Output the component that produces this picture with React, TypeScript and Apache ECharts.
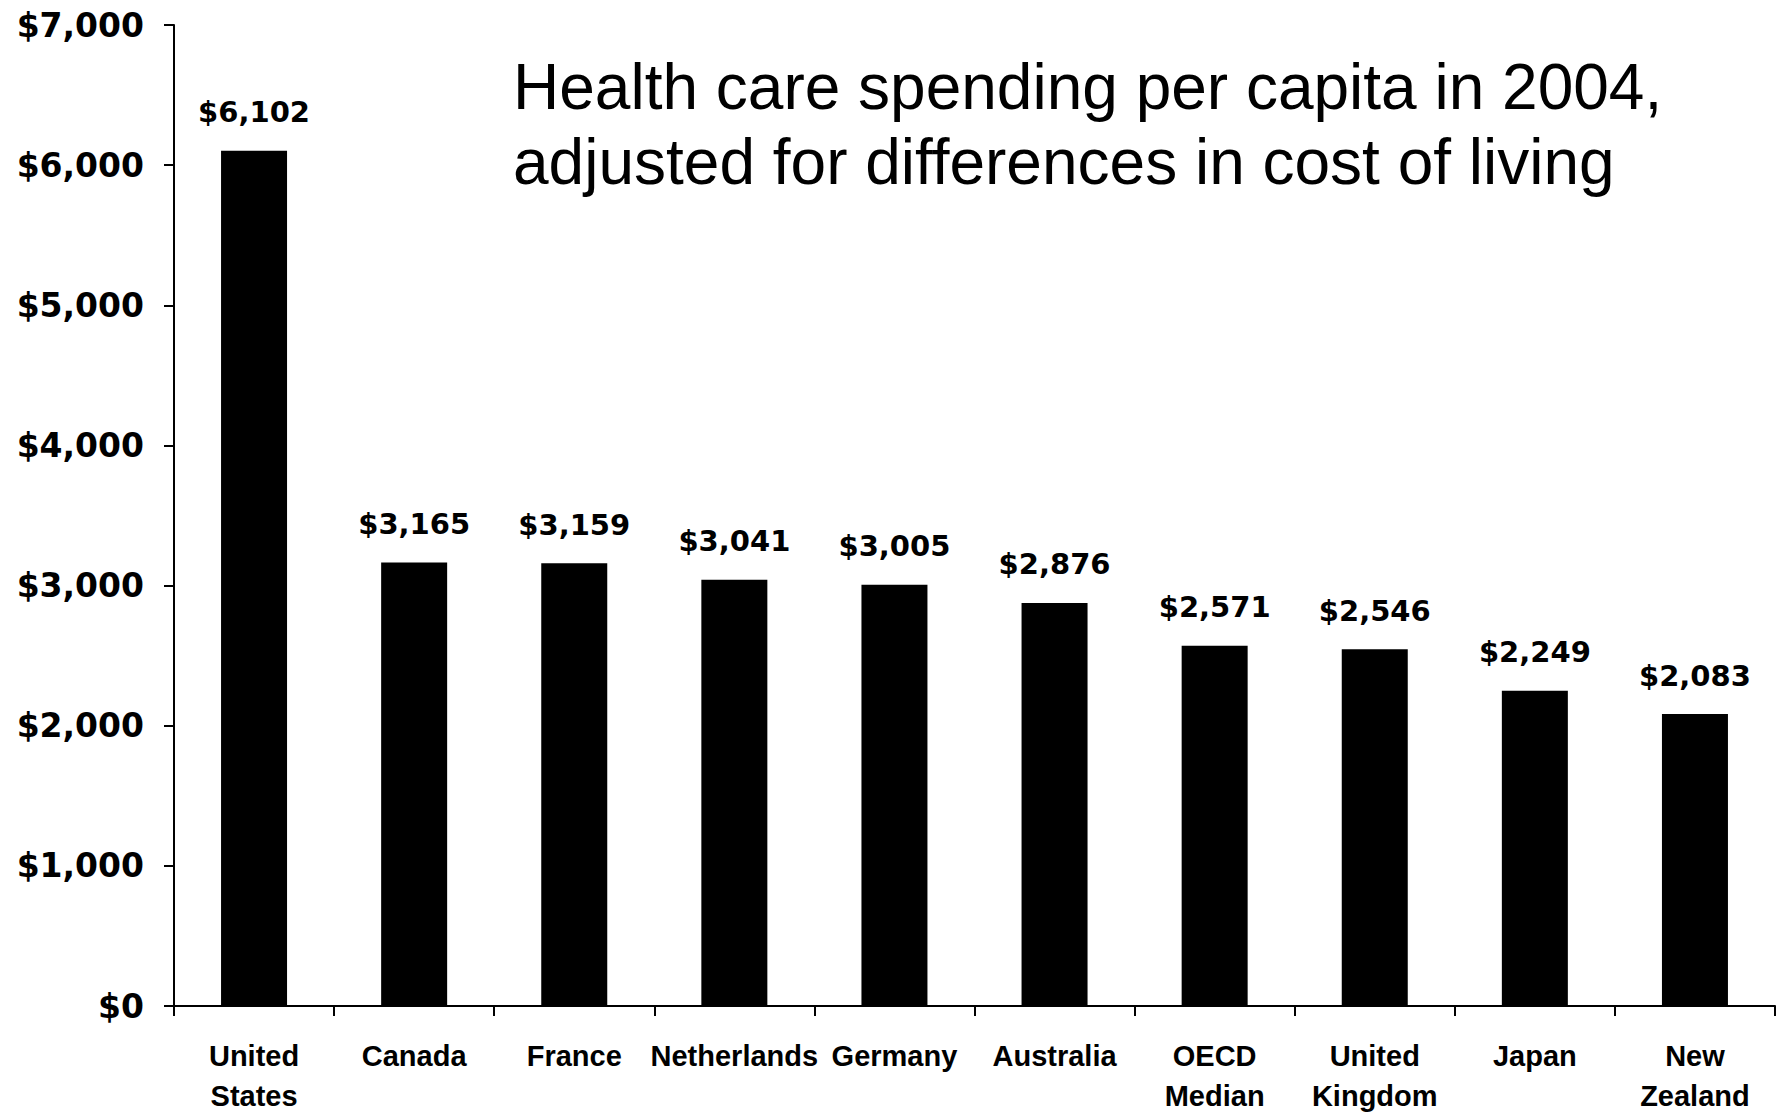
import React, { useEffect, useRef } from "react";
import * as echarts from "echarts";

const categories = [
  "United\nStates",
  "Canada",
  "France",
  "Netherlands",
  "Germany",
  "Australia",
  "OECD\nMedian",
  "United\nKingdom",
  "Japan",
  "New\nZealand",
];
const spending = [6102, 3165, 3159, 3041, 3005, 2876, 2571, 2546, 2249, 2083];
const yMin = 0;
const yMax = 7000;
const yInterval = 1000;
const titleLines = [
  "Health care spending per capita in 2004,",
  "adjusted for differences in cost of living",
];

const fmtMoney = (v: number) => "$" + Number(v).toLocaleString("en-US");

export default function App() {
  const ref = useRef<HTMLDivElement>(null);
  useEffect(() => {
    if (!ref.current) return;
    const chart = echarts.init(ref.current, undefined, { renderer: "svg" });
    chart.setOption({
      animation: false,
      backgroundColor: "#ffffff",
      title: {
        text: titleLines.join("\n"),
        left: 513,
        top: 49,
        padding: 0,
        textStyle: {
          fontFamily: "Liberation Sans, Arial, sans-serif",
          fontSize: 64,
          fontWeight: "normal",
          lineHeight: 75,
          color: "#000",
        },
      },
      grid: { left: 174, right: 6, top: 25, bottom: 100, containLabel: false },
      xAxis: {
        type: "category",
        data: categories,
        axisLine: { show: true, lineStyle: { color: "#000", width: 2 } },
        axisTick: { show: true, length: 10, lineStyle: { color: "#000", width: 2 } },
        axisLabel: {
          interval: 0,
          margin: 30,
          color: "#000",
          fontFamily: "Liberation Sans, Arial, sans-serif",
          fontWeight: "bold",
          fontSize: 29,
          lineHeight: 40,
        },
      },
      yAxis: {
        type: "value",
        min: yMin,
        max: yMax,
        interval: yInterval,
        splitLine: { show: false },
        axisLine: { show: true, lineStyle: { color: "#000", width: 2 } },
        axisTick: { show: true, length: 10, lineStyle: { color: "#000", width: 2 } },
        axisLabel: {
          margin: 30,
          color: "#000",
          fontFamily: "DejaVu Sans, Verdana, sans-serif",
          fontWeight: "bold",
          fontSize: 33,
          formatter: (v: number) => fmtMoney(v),
        },
      },
      series: [
        {
          type: "bar",
          data: spending,
          barWidth: 66,
          itemStyle: { color: "#000" },
          label: {
            show: true,
            position: "top",
            distance: 24,
            color: "#000",
            fontFamily: "DejaVu Sans, Verdana, sans-serif",
            fontWeight: "bold",
            fontSize: 29,
            formatter: (p: any) => fmtMoney(p.value),
          },
        },
      ],
    });
    return () => chart.dispose();
  }, []);
  return (
    <div
      ref={ref}
      style={{ position: "absolute", left: 0, top: 0, width: 1781, height: 1116 }}
    />
  );
}
